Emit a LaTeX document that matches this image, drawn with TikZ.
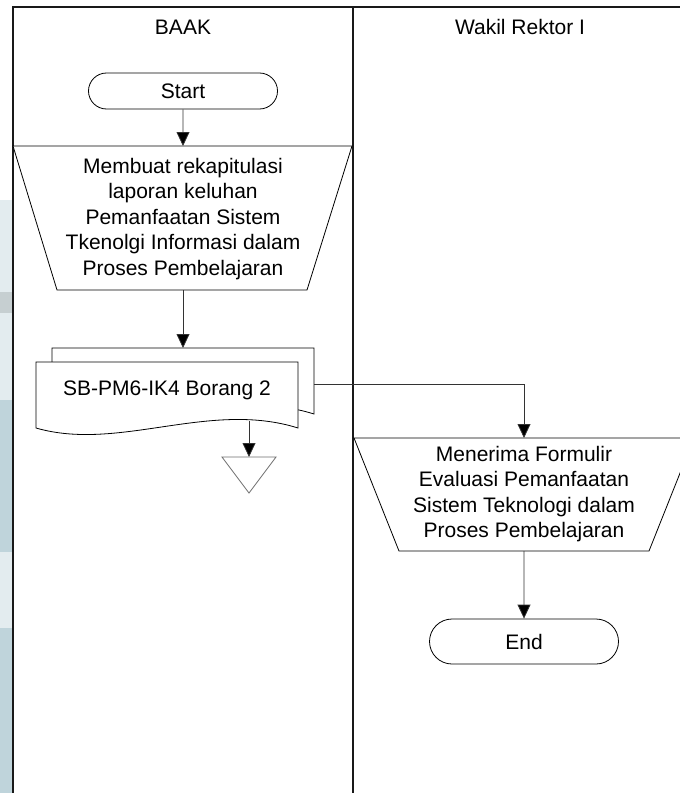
\documentclass[tikz,border=0pt]{standalone}
\usepackage{fontspec}
\setmainfont{Liberation Sans}
\usetikzlibrary{arrows.meta,shapes.misc}
\definecolor{stripblue}{HTML}{BFD4DB}
\definecolor{stripgrey}{HTML}{C6CFD1}
\definecolor{striplight}{HTML}{E3ECEF}
\definecolor{offgrey}{HTML}{6E6E6E}

\begin{document}
\begin{tikzpicture}[x=1bp,y=-1bp,
  lane/.style={draw=black!90, line width=1.1bp},
  shapeline/.style={draw=black, line width=0.8bp, fill=white},
  flow/.style={draw=black!80, line width=0.8bp,
    -{Triangle[width=13bp,length=14bp,fill=black]}},
  txt/.style={font=\fontsize{21bp}{25.5bp}\selectfont, align=center, inner sep=0pt},
  terminal/.style={rounded rectangle, draw=black, line width=0.8bp, fill=white,
    minimum width=189bp, font=\fontsize{21bp}{25.5bp}\selectfont, inner sep=0pt}
]
\useasboundingbox (0,0) rectangle (680,793);
\clip (0,0) rectangle (680,793);

% page edge strip on the left
\fill[striplight] (0,200) rectangle (12,400);
\fill[stripgrey] (0,292) rectangle (12,313);
\fill[stripblue] (0,400) rectangle (12,793);
\fill[striplight] (0,552) rectangle (12,628);

% swimlanes
\draw[lane] (13,793) -- (13,7) -- (700,7);
\draw[lane] (353,7) -- (353,793);
\node[txt] (laneA) at (183,27) {BAAK};
\node[txt] (laneB) at (520,27) {Wakil Rektor I};

% start terminator
\node[terminal, minimum height=36bp] (start) at (183,91) {Start};

% manual step in BAAK
\draw[shapeline] (13,146) -- (352,146) -- (307,290) -- (57,290) -- cycle;
\coordinate (rekapTop) at (183,146);
\coordinate (rekapBot) at (183,290);
\node[txt] (rekap) at (183,219) {Membuat rekapitulasi\\laporan keluhan\\Pemanfaatan Sistem\\Tkenolgi Informasi dalam\\Proses Pembelajaran};

% stacked documents
\draw[shapeline] (52,348) -- (314,348) -- (314,414)
  .. controls (225,386) and (135,438) .. (52,414) -- cycle;
\draw[shapeline] (36,362) -- (298,362) -- (298,428)
  .. controls (209,400) and (119,452) .. (36,428) -- cycle;
\coordinate (docTop) at (183,348);
\coordinate (docRight) at (314,384);
\coordinate (docBot) at (249,421);
\node[txt] (doc) at (167,390) {SB-PM6-IK4 Borang 2};

% off-page marker
\draw[draw=offgrey, line width=0.8bp, fill=white] (222,457) -- (276,457) -- (249,493) -- cycle;
\coordinate (offTop) at (249,457);

% manual step in Wakil Rektor I
\draw[shapeline] (354,438) -- (694,438) -- (649,551) -- (399,551) -- cycle;
\coordinate (terimaTop) at (524,438);
\coordinate (terimaBot) at (524,551);
\node[txt] (terima) at (524,494) {Menerima Formulir\\Evaluasi Pemanfaatan\\Sistem Teknologi dalam\\Proses Pembelajaran};

% end terminator
\node[terminal, minimum height=45bp] (end) at (524,641.5) {End};

% connectors
\draw[flow] (start) -- (rekapTop);
\draw[flow] (rekapBot) -- (docTop);
\draw[flow] (docBot) -- (offTop);
\draw[flow] (docRight) -| (terimaTop);
\draw[flow] (terimaBot) -- (end);
\end{tikzpicture}
\end{document}
